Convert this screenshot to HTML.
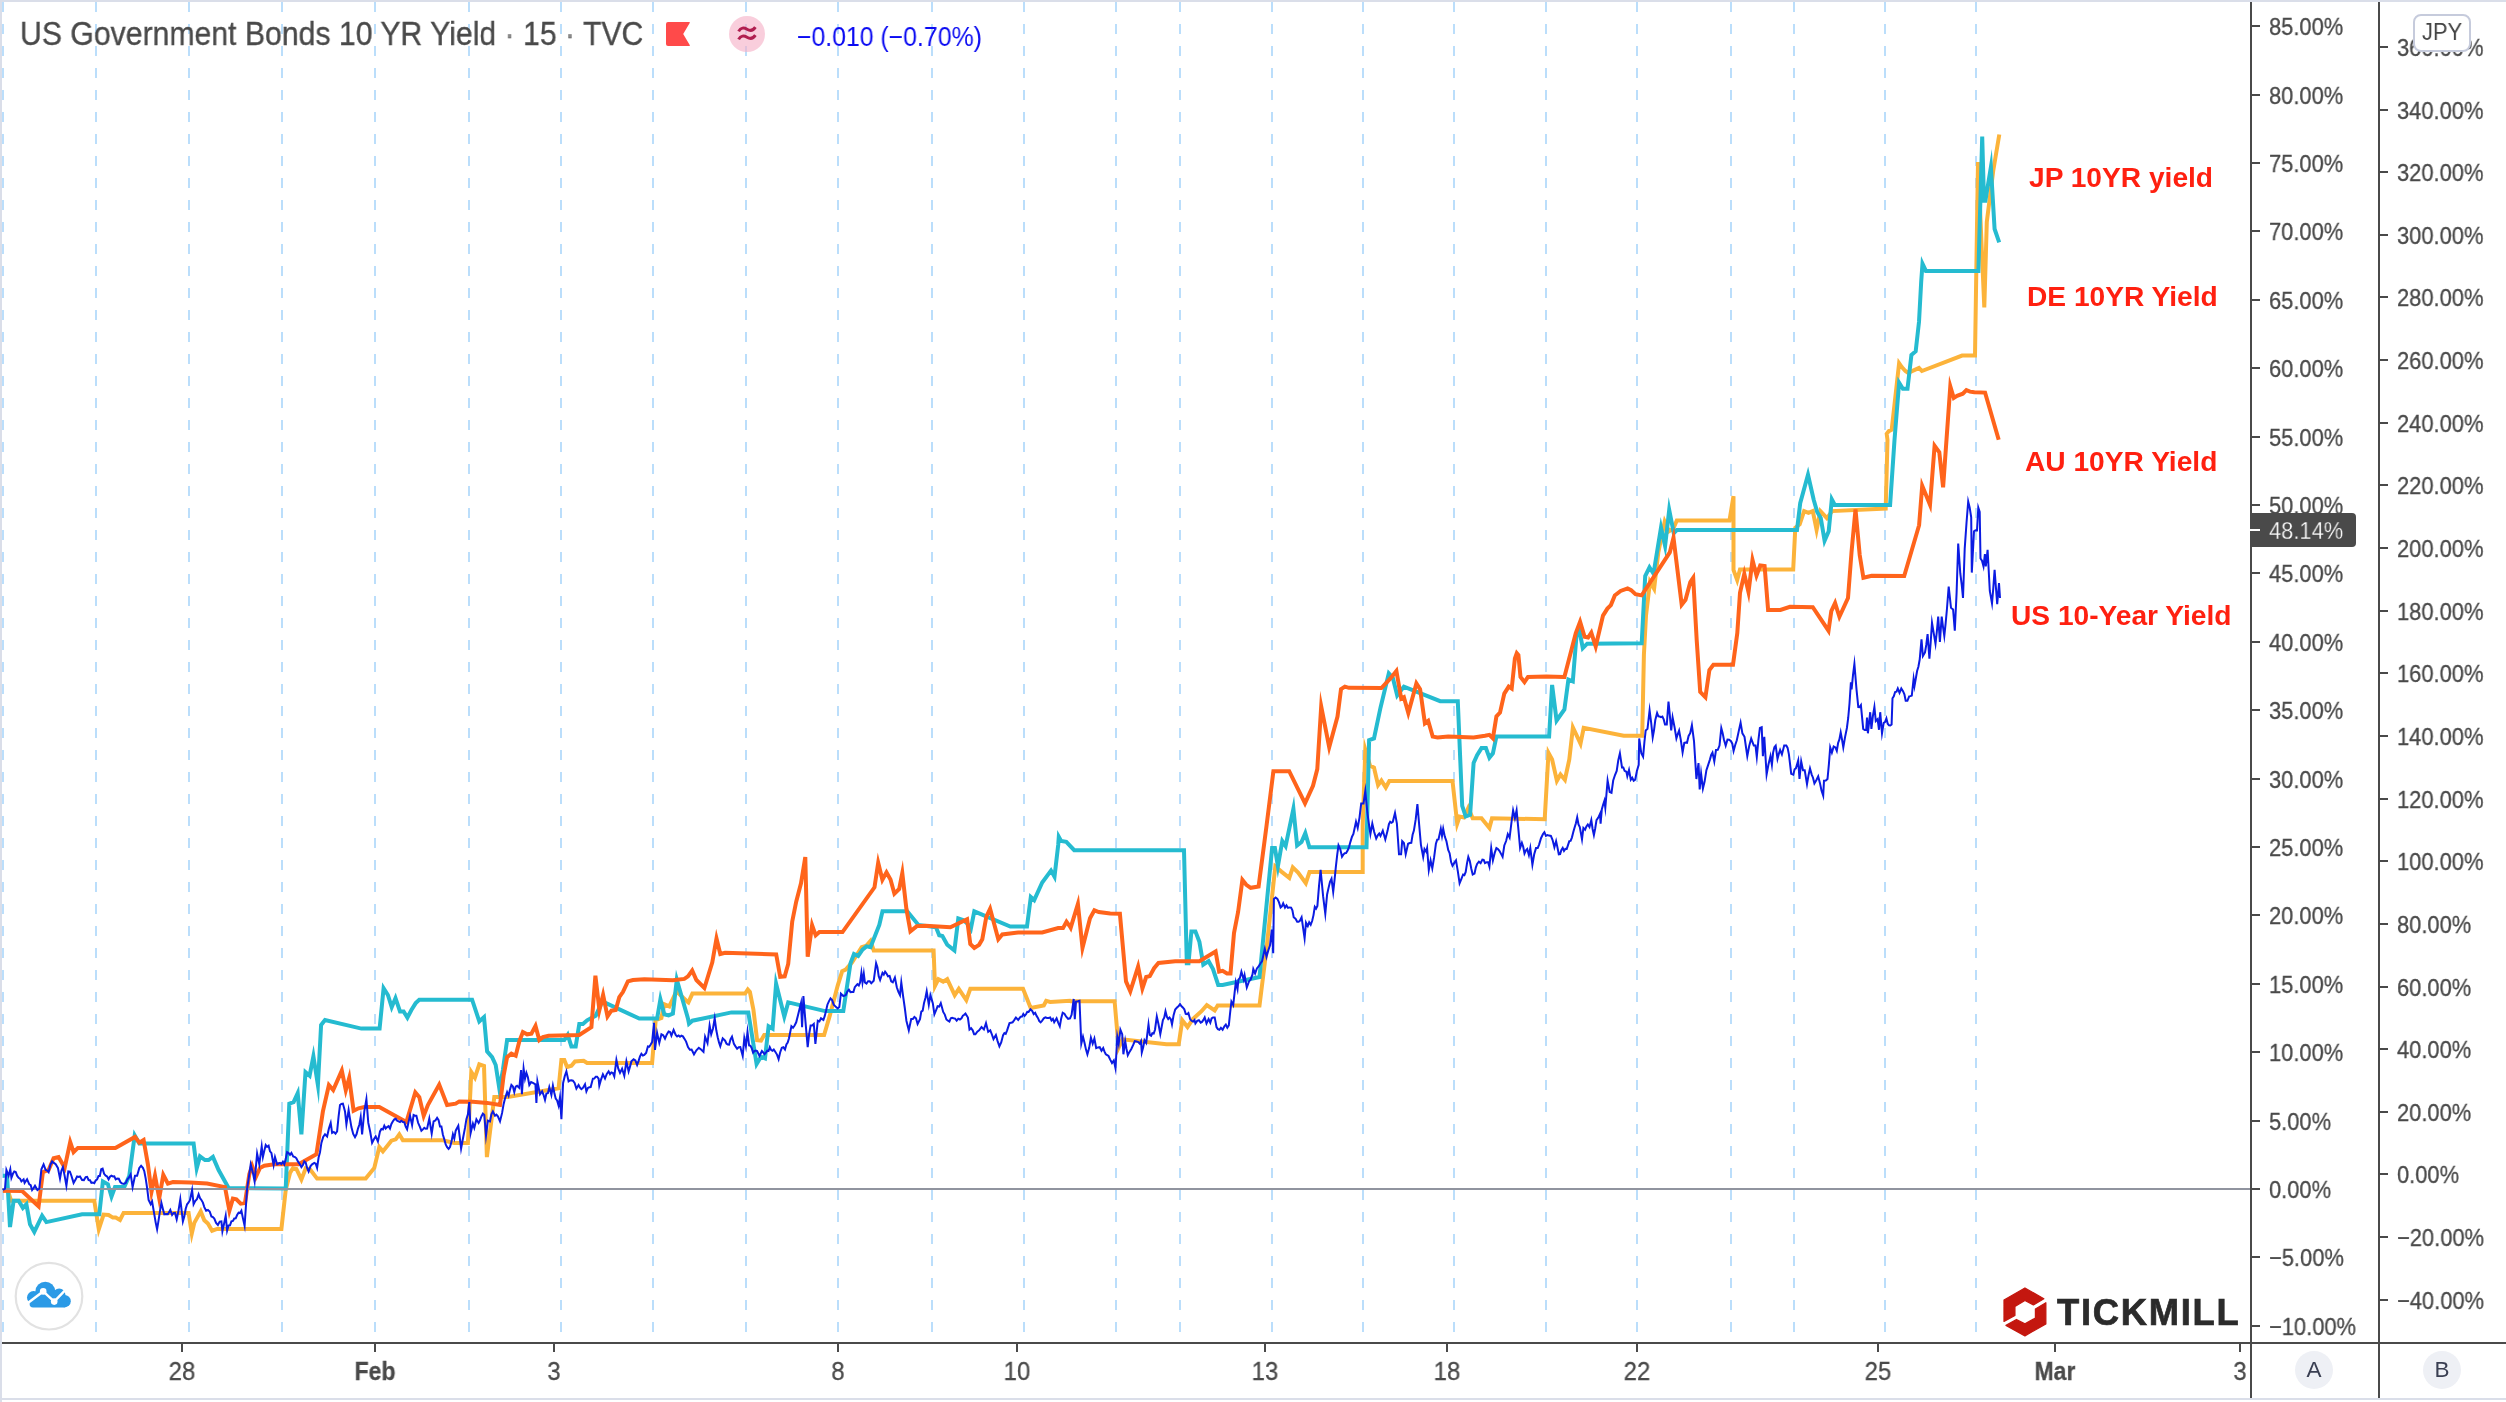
<!DOCTYPE html><html><head><meta charset="utf-8"><title>US Government Bonds 10 YR Yield</title><style>
*{margin:0;padding:0;box-sizing:border-box}
html,body{width:2506px;height:1402px;overflow:hidden;background:#fff}
body{font-family:"Liberation Sans",sans-serif;color:#4a4a4a;position:relative}
#chart{position:absolute;left:0;top:0;width:2506px;height:1402px;background:#fff;overflow:hidden}
.t{will-change:transform}
#bt{position:absolute;left:0;top:0;width:2506px;height:2px;background:#dadee9}
#bl{position:absolute;left:0;top:0;width:2px;height:1402px;background:#dadee9}
#bb{position:absolute;left:0;top:1398px;width:2506px;height:2px;background:#dadee9}
svg{position:absolute;left:0;top:0}
.t{position:absolute;white-space:nowrap;transform-origin:0 50%;line-height:1}
.yl{font-size:24px;height:24px;color:#4a4a4a;-webkit-text-stroke:0.3px #4a4a4a}
.xl{font-size:25px;height:25px;color:#4a4a4a;-webkit-text-stroke:0.3px #4a4a4a;transform-origin:50% 50%;text-align:center}
.red{font-weight:bold;color:#ff2010;font-size:27px;height:27px}
</style></head><body><div id="chart">
<svg width="2506" height="1402" viewBox="0 0 2506 1402"><line x1="3" y1="2" x2="3" y2="1342" stroke="#bbdefb" stroke-width="2" stroke-dasharray="10 12"/>
<line x1="96" y1="2" x2="96" y2="1342" stroke="#bbdefb" stroke-width="2" stroke-dasharray="10 12"/>
<line x1="189" y1="2" x2="189" y2="1342" stroke="#bbdefb" stroke-width="2" stroke-dasharray="10 12"/>
<line x1="282" y1="2" x2="282" y2="1342" stroke="#bbdefb" stroke-width="2" stroke-dasharray="10 12"/>
<line x1="375" y1="2" x2="375" y2="1342" stroke="#bbdefb" stroke-width="2" stroke-dasharray="10 12"/>
<line x1="469" y1="2" x2="469" y2="1342" stroke="#bbdefb" stroke-width="2" stroke-dasharray="10 12"/>
<line x1="561" y1="2" x2="561" y2="1342" stroke="#bbdefb" stroke-width="2" stroke-dasharray="10 12"/>
<line x1="653" y1="2" x2="653" y2="1342" stroke="#bbdefb" stroke-width="2" stroke-dasharray="10 12"/>
<line x1="746" y1="2" x2="746" y2="1342" stroke="#bbdefb" stroke-width="2" stroke-dasharray="10 12"/>
<line x1="838" y1="2" x2="838" y2="1342" stroke="#bbdefb" stroke-width="2" stroke-dasharray="10 12"/>
<line x1="932" y1="2" x2="932" y2="1342" stroke="#bbdefb" stroke-width="2" stroke-dasharray="10 12"/>
<line x1="1024" y1="2" x2="1024" y2="1342" stroke="#bbdefb" stroke-width="2" stroke-dasharray="10 12"/>
<line x1="1116" y1="2" x2="1116" y2="1342" stroke="#bbdefb" stroke-width="2" stroke-dasharray="10 12"/>
<line x1="1180" y1="2" x2="1180" y2="1342" stroke="#bbdefb" stroke-width="2" stroke-dasharray="10 12"/>
<line x1="1272" y1="2" x2="1272" y2="1342" stroke="#bbdefb" stroke-width="2" stroke-dasharray="10 12"/>
<line x1="1363" y1="2" x2="1363" y2="1342" stroke="#bbdefb" stroke-width="2" stroke-dasharray="10 12"/>
<line x1="1454" y1="2" x2="1454" y2="1342" stroke="#bbdefb" stroke-width="2" stroke-dasharray="10 12"/>
<line x1="1546" y1="2" x2="1546" y2="1342" stroke="#bbdefb" stroke-width="2" stroke-dasharray="10 12"/>
<line x1="1637" y1="2" x2="1637" y2="1342" stroke="#bbdefb" stroke-width="2" stroke-dasharray="10 12"/>
<line x1="1731" y1="2" x2="1731" y2="1342" stroke="#bbdefb" stroke-width="2" stroke-dasharray="10 12"/>
<line x1="1794" y1="2" x2="1794" y2="1342" stroke="#bbdefb" stroke-width="2" stroke-dasharray="10 12"/>
<line x1="1885" y1="2" x2="1885" y2="1342" stroke="#bbdefb" stroke-width="2" stroke-dasharray="10 12"/>
<line x1="1976" y1="2" x2="1976" y2="1342" stroke="#bbdefb" stroke-width="2" stroke-dasharray="10 12"/>
<path d="M2.9 1190.7 L7.9 1190.7 L11.1 1200.7 L94.3 1200.7 L98.8 1229.3 L103.6 1214.6 L108.6 1215.0 L112.9 1217.6 L115.7 1217.6 L120.0 1220.0 L123.6 1212.9 L188.6 1212.9 L191.8 1233.6 L194.3 1222.9 L200.7 1211.4 L204.3 1220.3 L207.9 1223.6 L212.1 1230.7 L217.1 1228.9 L281.4 1228.9 L285.7 1190.0 L290.0 1172.9 L292.9 1168.3 L296.4 1169.0 L301.4 1179.4 L305.7 1168.3 L310.0 1169.3 L317.1 1178.6 L358.0 1178.6 L365.7 1178.6 L374.3 1167.9 L379.3 1147.1 L382.9 1151.4 L391.4 1140.7 L395.7 1139.3 L399.3 1134.3 L402.9 1140.3 L442.9 1140.3 L454.3 1142.9 L467.9 1142.9 L471.3 1072.1 L474.9 1077.7 L479.3 1064.3 L484.0 1066.0 L486.9 1157.1 L494.3 1097.1 L507.1 1097.1 L558.6 1088.3 L561.4 1060.0 L564.3 1060.0 L567.1 1067.1 L571.4 1065.7 L575.0 1061.4 L583.6 1060.7 L587.1 1062.9 L652.1 1062.9 L655.7 1020.0 L661.4 1017.9 L664.3 1004.3 L669.3 1006.4 L676.4 991.4 L688.0 1002.1 L688.4 1002.4 L692.4 993.6 L745.1 993.6 L747.8 989.6 L749.9 992.0 L753.4 1009.5 L757.1 1040.2 L761.0 1040.7 L764.2 1035.1 L824.1 1035.1 L829.7 1015.9 L837.7 985.6 L842.2 971.2 L845.7 969.6 L852.1 962.4 L861.7 947.2 L866.5 945.6 L870.5 940.9 L873.7 950.4 L933.6 950.4 L935.0 986.0 L938.4 979.2 L943.2 981.6 L947.2 979.2 L954.7 995.2 L958.8 988.8 L966.3 1000.0 L970.3 988.8 L1023.0 988.8 L1030.7 1007.9 L1043.8 1005.5 L1046.2 1000.8 L1050.2 1001.9 L1070.0 1000.8 L1070.7 1001.2 L1114.6 1001.2 L1118.6 1047.6 L1122.5 1039.3 L1166.4 1044.3 L1178.7 1044.3 L1182.3 1020.3 L1187.5 1027.0 L1192.8 1019.1 L1201.5 1011.2 L1206.8 1005.1 L1214.7 1010.4 L1217.7 1005.5 L1259.5 1005.5 L1266.5 948.9 L1275.3 866.4 L1281.4 871.6 L1289.3 877.8 L1292.8 867.3 L1298.1 872.5 L1305.8 883.1 L1309.5 872.0 L1362.7 872.0 L1362.7 826.0 L1365.3 749.7 L1370.0 765.6 L1374.0 767.7 L1378.1 785.1 L1381.4 780.6 L1385.8 787.5 L1389.3 781.1 L1452.5 781.1 L1457.2 823.6 L1459.6 816.5 L1464.0 817.4 L1468.3 808.0 L1472.7 818.3 L1481.5 818.3 L1489.4 828.0 L1492.0 818.3 L1544.7 819.2 L1548.5 752.9 L1552.1 759.5 L1556.9 780.8 L1560.5 774.4 L1564.9 779.7 L1569.3 759.5 L1572.9 727.5 L1580.5 743.6 L1583.7 727.9 L1623.7 735.8 L1642.2 735.8 L1643.9 654.9 L1646.0 615.6 L1650.0 581.8 L1654.1 588.8 L1658.3 552.4 L1664.7 521.7 L1668.9 531.3 L1673.3 528.7 L1676.8 520.4 L1729.5 520.4 L1733.5 496.2 L1733.5 569.9 L1737.2 580.1 L1740.0 569.6 L1793.2 569.6 L1795.3 527.8 L1799.7 524.3 L1804.1 511.1 L1808.5 512.9 L1812.8 511.1 L1816.6 529.9 L1820.4 511.1 L1826.9 518.1 L1832.2 511.1 L1885.7 508.5 L1887.5 440.0 L1886.7 433.9 L1888.8 431.1 L1891.7 429.6 L1899.1 363.2 L1901.8 367.1 L1905.4 371.0 L1908.2 372.9 L1919.0 367.9 L1921.9 371.0 L1962.1 355.6 L1975.0 355.6 L1978.0 162.0 L1984.3 307.5 L1986.8 222.0 L1993.2 171.0 L1999.3 134.5" fill="none" stroke="#fcb33a" stroke-width="4" stroke-linejoin="miter" stroke-miterlimit="10"/>
<path d="M2.9 1175.7 L7.1 1175.7 L10.0 1227.1 L13.6 1200.7 L18.6 1200.7 L22.9 1207.9 L26.4 1204.3 L30.0 1224.3 L34.3 1231.9 L42.1 1215.7 L46.4 1222.1 L82.1 1214.3 L99.3 1214.3 L102.9 1181.4 L107.9 1184.3 L111.5 1196.6 L115.0 1187.1 L124.3 1187.1 L129.3 1175.7 L134.7 1135.4 L139.3 1143.6 L193.6 1143.6 L196.7 1168.3 L200.0 1156.4 L205.0 1160.0 L208.6 1160.0 L212.9 1156.9 L218.6 1170.0 L228.6 1187.9 L285.7 1188.6 L289.3 1103.6 L293.6 1102.1 L297.7 1093.2 L301.4 1134.3 L305.5 1072.1 L309.6 1075.7 L313.4 1056.3 L317.9 1085.0 L321.1 1025.0 L325.0 1020.0 L361.4 1028.6 L379.6 1028.6 L383.6 988.2 L387.9 995.0 L391.7 1007.2 L395.5 998.1 L400.0 1011.4 L403.6 1011.4 L407.4 1017.6 L411.4 1010.0 L415.7 1003.1 L419.3 999.7 L472.1 999.7 L479.3 1021.4 L484.0 1017.1 L487.1 1051.4 L492.1 1057.1 L495.7 1065.0 L499.4 1089.0 L502.9 1070.0 L507.1 1040.0 L564.3 1040.0 L567.7 1034.8 L571.4 1046.4 L575.7 1046.4 L579.3 1024.0 L582.9 1024.0 L587.1 1020.3 L595.7 1015.7 L601.4 1003.6 L605.0 1002.6 L639.3 1018.6 L657.1 1018.6 L660.4 999.2 L664.3 1014.3 L668.6 1015.4 L672.9 1013.6 L676.8 979.6 L688.0 1018.6 L689.0 1023.7 L692.4 1020.7 L731.5 1012.4 L748.3 1012.4 L756.6 1064.0 L761.0 1056.7 L765.0 1058.3 L768.6 1026.3 L772.6 1028.7 L776.1 983.7 L784.3 1016.6 L788.2 1002.4 L825.0 1011.1 L843.3 1011.1 L850.5 963.2 L854.0 954.0 L858.2 956.0 L862.5 949.6 L866.5 946.4 L870.5 947.2 L879.3 924.9 L882.5 911.3 L907.2 911.3 L918.4 924.9 L936.0 927.3 L939.2 935.3 L942.4 936.0 L947.2 944.8 L954.4 950.4 L958.3 918.5 L963.1 920.1 L967.1 923.3 L970.8 929.0 L974.3 911.3 L1010.3 926.5 L1027.0 926.5 L1030.8 897.0 L1034.2 900.1 L1042.2 882.5 L1051.0 870.6 L1054.5 876.7 L1058.2 845.0 L1058.8 836.8 L1061.1 840.9 L1066.3 841.8 L1074.2 850.2 L1184.0 850.2 L1186.8 963.3 L1188.5 963.3 L1191.4 931.4 L1195.4 931.4 L1199.4 941.9 L1203.3 964.7 L1208.6 961.2 L1213.0 969.1 L1218.2 984.9 L1222.6 984.9 L1259.5 977.0 L1272.1 848.0 L1274.9 848.0 L1277.9 866.2 L1282.3 841.0 L1285.6 846.1 L1293.4 808.9 L1297.1 845.5 L1301.5 842.0 L1305.3 833.1 L1309.4 847.3 L1366.5 847.3 L1369.1 740.2 L1374.0 738.4 L1380.5 707.7 L1388.8 673.4 L1392.8 677.8 L1397.2 695.4 L1403.9 686.6 L1440.2 701.2 L1457.8 701.2 L1462.2 806.0 L1465.7 816.5 L1470.1 814.8 L1473.6 763.0 L1477.1 755.1 L1481.5 748.1 L1485.9 748.1 L1489.4 757.7 L1492.9 753.3 L1496.4 736.6 L1549.1 736.6 L1552.1 684.9 L1556.6 720.5 L1564.4 709.4 L1568.4 679.6 L1572.8 681.3 L1576.7 633.1 L1579.3 630.0 L1582.8 648.1 L1587.2 643.7 L1641.7 643.3 L1645.2 576.1 L1649.5 567.3 L1653.5 573.7 L1661.0 527.6 L1665.1 546.0 L1669.2 509.9 L1673.8 533.1 L1676.8 530.1 L1797.0 530.1 L1800.2 503.2 L1808.0 474.8 L1813.7 499.7 L1817.2 512.0 L1820.8 518.1 L1824.6 540.7 L1828.7 531.3 L1831.8 499.3 L1834.8 505.0 L1890.1 505.0 L1894.5 440.0 L1899.1 382.7 L1902.9 388.7 L1907.5 388.7 L1911.4 354.9 L1915.7 351.3 L1919.0 321.9 L1921.2 281.7 L1922.5 263.7 L1925.9 270.9 L1978.4 271.0 L1982.2 136.5 L1984.0 200.8 L1985.4 200.8 L1990.9 167.0 L1994.6 229.0 L1999.2 242.3" fill="none" stroke="#25bbd0" stroke-width="4" stroke-linejoin="miter" stroke-miterlimit="10"/>
<path d="M2.9 1190.7 L22.1 1191.1 L38.6 1206.4 L42.9 1172.1 L48.6 1170.0 L53.6 1158.3 L58.6 1157.1 L64.7 1167.7 L70.2 1142.0 L73.6 1152.1 L77.9 1147.9 L115.4 1147.9 L135.0 1136.9 L139.3 1142.6 L143.6 1140.0 L147.9 1164.3 L151.5 1191.8 L155.0 1175.6 L159.2 1198.3 L163.3 1174.8 L167.9 1183.6 L172.9 1182.1 L190.0 1182.6 L207.1 1183.6 L225.0 1187.1 L229.4 1210.6 L232.9 1198.6 L236.4 1199.3 L240.7 1203.6 L245.0 1202.9 L249.3 1174.3 L252.1 1165.9 L255.9 1176.8 L260.0 1167.9 L264.3 1165.7 L274.3 1164.3 L298.6 1164.3 L316.4 1154.3 L322.9 1111.4 L328.9 1085.0 L333.2 1090.0 L341.8 1070.6 L345.8 1090.2 L349.2 1078.0 L353.6 1110.7 L358.6 1108.3 L364.3 1107.1 L379.3 1107.1 L406.4 1122.1 L415.3 1092.4 L419.3 1097.1 L423.7 1115.8 L427.9 1105.0 L439.2 1084.6 L447.1 1105.0 L455.7 1103.6 L459.3 1101.4 L472.9 1101.7 L487.1 1102.9 L500.0 1105.0 L503.6 1075.7 L507.1 1057.1 L511.4 1053.6 L515.7 1055.7 L519.3 1041.4 L522.9 1032.1 L527.1 1034.3 L531.4 1033.6 L535.5 1025.9 L539.3 1040.0 L542.9 1037.1 L548.6 1035.7 L579.3 1035.0 L591.4 1027.1 L595.4 975.7 L599.4 1010.0 L603.1 994.9 L607.5 1016.4 L611.4 1010.7 L615.7 1010.0 L619.3 997.1 L622.9 992.1 L627.9 981.4 L632.9 980.0 L644.3 979.3 L672.9 980.3 L684.3 978.9 L688.0 976.4 L692.2 970.5 L696.4 980.0 L704.4 988.0 L712.3 962.4 L716.5 938.5 L720.3 954.0 L725.1 952.8 L776.2 954.4 L780.2 976.8 L784.7 976.3 L788.2 964.0 L792.2 921.7 L796.2 901.7 L801.0 883.3 L805.3 857.0 L807.7 956.8 L812.1 925.2 L815.7 935.3 L819.4 932.1 L842.5 932.1 L874.5 887.3 L878.2 862.7 L882.4 879.8 L886.5 872.4 L890.5 879.4 L894.4 893.7 L899.2 888.9 L902.3 873.1 L906.4 908.9 L910.4 931.3 L916.8 926.1 L925.6 925.7 L950.4 927.3 L967.1 919.3 L970.3 944.0 L974.3 948.0 L979.1 944.8 L982.3 939.2 L986.3 916.9 L990.1 908.8 L998.3 939.2 L1002.3 934.5 L1018.2 932.5 L1042.2 932.5 L1058.2 928.1 L1063.0 928.1 L1066.5 921.7 L1070.0 926.5 L1070.7 927.7 L1077.9 904.0 L1082.5 947.8 L1090.0 918.2 L1094.4 910.3 L1098.8 912.0 L1110.2 913.5 L1119.9 913.8 L1126.0 981.4 L1130.3 991.3 L1138.1 966.6 L1142.4 988.4 L1146.2 977.0 L1149.8 976.1 L1154.1 968.2 L1158.5 963.0 L1175.2 961.2 L1199.4 961.2 L1215.6 951.5 L1219.1 971.7 L1222.6 970.9 L1227.0 973.5 L1230.5 973.5 L1234.0 933.1 L1238.1 912.0 L1242.4 879.9 L1246.3 884.8 L1250.7 887.8 L1258.6 886.6 L1266.5 826.0 L1273.4 771.2 L1289.2 771.2 L1305.0 803.4 L1313.0 785.8 L1317.3 769.1 L1321.2 706.4 L1329.2 747.2 L1337.5 716.5 L1341.0 689.2 L1344.9 686.6 L1348.9 687.8 L1381.4 688.0 L1390.2 678.7 L1396.4 671.0 L1401.2 698.7 L1403.9 697.2 L1408.3 713.0 L1416.4 683.4 L1420.1 689.2 L1424.9 723.3 L1428.2 720.8 L1432.7 736.6 L1437.6 737.5 L1448.2 736.6 L1473.6 737.5 L1485.0 735.8 L1489.4 734.9 L1492.9 738.4 L1496.4 716.5 L1500.0 712.6 L1504.3 693.6 L1508.7 686.6 L1511.7 688.6 L1514.9 658.5 L1516.8 653.2 L1518.4 655.0 L1520.5 677.0 L1524.5 682.2 L1528.0 677.0 L1546.5 676.6 L1564.0 677.0 L1564.4 677.0 L1575.8 633.1 L1580.1 621.7 L1584.6 636.7 L1588.1 637.5 L1591.3 632.6 L1595.7 646.5 L1603.0 615.6 L1607.4 608.6 L1610.9 605.1 L1614.8 595.4 L1620.6 591.0 L1627.6 588.4 L1631.1 590.1 L1635.5 594.2 L1641.7 595.4 L1669.8 552.4 L1673.5 537.7 L1681.7 604.7 L1685.5 599.8 L1690.3 582.2 L1693.2 577.9 L1696.7 640.2 L1700.2 692.0 L1705.4 697.3 L1709.4 670.0 L1713.4 664.8 L1733.0 664.8 L1737.3 633.1 L1740.0 592.8 L1744.3 574.0 L1748.5 592.1 L1752.5 559.9 L1756.5 575.6 L1760.2 565.5 L1764.6 566.1 L1768.1 610.0 L1780.4 610.0 L1790.0 606.8 L1812.8 607.2 L1828.5 630.7 L1831.3 611.2 L1835.1 603.1 L1839.4 616.8 L1848.0 598.0 L1851.5 552.4 L1855.5 509.4 L1859.7 555.0 L1863.4 577.8 L1871.7 575.7 L1904.2 576.1 L1919.1 525.2 L1922.2 485.8 L1930.0 504.8 L1934.6 445.8 L1939.3 452.3 L1943.1 487.4 L1950.3 386.3 L1953.8 398.0 L1957.1 395.9 L1962.8 393.7 L1966.4 390.1 L1970.0 391.6 L1974.3 392.3 L1985.1 392.6 L1998.7 439.7" fill="none" stroke="#ff641b" stroke-width="4" stroke-linejoin="miter" stroke-miterlimit="10"/>
<rect x="2" y="1188" width="2248" height="2" fill="#90949f"/>
<path d="M2.9 1190.0 L5.0 1188.6 L6.4 1170.0 L8.6 1175.7 L10.3 1169.3 L11.4 1177.9 L12.9 1173.8 L14.3 1171.4 L15.7 1172.0 L17.1 1175.7 L18.6 1177.8 L20.0 1178.6 L21.4 1181.4 L23.6 1179.3 L24.6 1182.9 L27.1 1179.3 L29.3 1184.3 L30.7 1185.2 L32.1 1190.0 L33.6 1188.0 L35.0 1185.7 L37.4 1190.0 L39.3 1188.6 L41.4 1169.3 L43.6 1164.3 L45.7 1170.0 L47.1 1170.5 L48.6 1172.1 L50.4 1164.8 L52.1 1161.4 L53.9 1162.9 L55.7 1164.3 L57.9 1167.9 L60.0 1178.6 L61.4 1170.7 L62.9 1167.1 L64.7 1176.1 L66.4 1185.7 L68.3 1171.4 L69.9 1171.6 L71.4 1175.7 L73.6 1182.9 L75.7 1179.3 L77.1 1176.5 L78.6 1177.0 L80.0 1176.4 L82.1 1180.0 L83.9 1180.1 L85.7 1177.1 L87.1 1176.8 L88.6 1180.0 L90.0 1180.2 L91.4 1182.9 L92.9 1182.5 L94.3 1183.1 L95.7 1180.5 L97.1 1179.3 L98.5 1176.1 L99.8 1176.1 L101.2 1169.2 L102.6 1168.6 L104.1 1173.8 L105.7 1175.7 L107.1 1176.5 L108.6 1179.3 L110.0 1176.7 L111.4 1175.6 L112.9 1176.4 L114.3 1176.3 L115.7 1179.3 L117.1 1178.6 L118.8 1178.8 L120.5 1182.3 L122.1 1183.6 L123.9 1183.8 L125.7 1182.9 L127.4 1179.4 L129.0 1177.4 L130.7 1174.3 L132.6 1187.1 L135.0 1175.7 L137.1 1175.7 L139.3 1167.9 L141.1 1165.8 L142.9 1167.9 L144.3 1171.2 L145.7 1178.6 L147.1 1187.9 L148.6 1200.0 L150.7 1204.3 L152.1 1201.4 L154.3 1214.3 L155.7 1222.6 L157.1 1229.3 L158.6 1220.2 L160.0 1210.8 L161.4 1202.9 L162.9 1209.0 L164.3 1214.3 L166.1 1214.1 L167.9 1214.3 L170.3 1210.0 L172.1 1215.0 L173.6 1213.0 L175.0 1212.9 L176.7 1219.3 L178.5 1210.6 L180.3 1199.3 L182.9 1221.4 L184.3 1216.6 L185.7 1208.8 L187.1 1204.3 L188.6 1202.5 L190.0 1200.0 L192.1 1190.0 L193.6 1204.3 L195.2 1201.1 L196.9 1199.3 L198.6 1194.3 L200.0 1198.2 L201.4 1200.0 L202.9 1202.6 L204.3 1207.1 L206.1 1210.8 L207.9 1210.0 L209.7 1211.5 L211.4 1216.4 L212.9 1217.1 L214.3 1218.6 L216.1 1223.0 L217.9 1225.0 L219.7 1221.6 L221.4 1221.4 L222.4 1231.4 L224.1 1223.5 L225.7 1215.7 L227.1 1230.7 L228.6 1225.5 L230.0 1225.3 L231.4 1221.4 L232.9 1221.0 L234.3 1218.5 L235.7 1218.3 L237.1 1215.0 L238.6 1212.7 L240.0 1213.0 L241.4 1210.7 L243.0 1218.6 L244.6 1225.7 L247.1 1188.6 L248.9 1176.8 L250.7 1164.3 L252.9 1172.9 L254.6 1181.4 L257.1 1153.6 L259.3 1164.3 L261.7 1146.4 L262.9 1157.1 L264.3 1150.9 L265.7 1145.0 L267.1 1146.9 L268.6 1145.7 L270.0 1151.3 L271.4 1152.9 L273.6 1165.0 L275.0 1157.1 L277.1 1164.3 L278.6 1163.5 L280.0 1162.9 L281.4 1164.1 L282.9 1161.8 L284.3 1164.3 L285.7 1159.1 L287.1 1152.1 L288.6 1153.1 L290.0 1154.9 L291.4 1152.9 L293.2 1156.5 L295.0 1157.1 L296.4 1158.3 L297.9 1161.4 L299.6 1163.8 L301.4 1167.1 L302.9 1165.1 L304.3 1161.4 L305.7 1162.6 L307.1 1167.9 L308.6 1171.4 L310.4 1166.3 L312.1 1164.3 L314.3 1162.9 L315.7 1163.6 L317.1 1167.9 L318.6 1157.5 L320.0 1152.4 L321.4 1142.9 L323.2 1136.9 L325.0 1134.3 L327.1 1136.4 L328.9 1128.5 L330.7 1122.9 L332.1 1132.9 L333.8 1131.9 L335.5 1133.6 L337.1 1131.4 L338.6 1116.3 L340.0 1105.0 L341.4 1104.0 L342.9 1103.6 L345.0 1111.4 L346.4 1124.3 L348.6 1110.0 L350.0 1118.8 L351.4 1127.1 L353.2 1133.9 L355.0 1137.1 L356.5 1134.3 L358.0 1128.6 L359.4 1124.5 L360.7 1117.1 L362.1 1134.3 L364.3 1111.4 L366.4 1099.3 L368.3 1122.9 L370.2 1131.8 L372.1 1142.9 L373.9 1139.3 L375.7 1136.4 L377.9 1141.4 L380.0 1131.4 L381.4 1128.9 L382.9 1129.4 L384.3 1125.7 L385.7 1128.5 L387.1 1127.1 L388.6 1126.2 L390.0 1128.6 L391.4 1124.0 L392.9 1121.2 L394.3 1119.3 L395.7 1118.8 L397.1 1120.7 L398.6 1121.4 L400.0 1122.1 L401.4 1120.8 L402.9 1122.1 L404.3 1122.2 L405.7 1126.5 L407.1 1129.3 L408.6 1121.9 L410.0 1115.7 L412.1 1125.0 L413.6 1115.0 L415.0 1115.7 L416.4 1115.7 L418.1 1122.8 L419.8 1126.6 L421.4 1130.7 L422.9 1129.4 L424.3 1127.9 L425.7 1128.8 L427.1 1128.6 L429.3 1118.6 L431.7 1133.6 L433.6 1121.4 L435.4 1120.5 L437.1 1117.9 L438.6 1120.1 L440.0 1126.4 L441.4 1126.4 L442.9 1134.7 L444.3 1139.3 L445.7 1144.5 L447.1 1147.1 L448.6 1148.9 L450.0 1147.1 L451.4 1142.1 L452.9 1134.3 L454.3 1138.6 L455.7 1130.7 L458.3 1125.7 L459.7 1136.6 L461.1 1148.6 L463.1 1137.8 L465.0 1127.9 L466.4 1119.2 L467.9 1114.3 L469.3 1102.1 L470.7 1132.9 L472.9 1123.6 L474.3 1127.9 L476.4 1119.3 L478.6 1122.9 L480.0 1120.3 L481.4 1116.4 L482.9 1113.7 L484.3 1115.0 L486.0 1135.7 L487.9 1120.7 L490.0 1121.4 L491.4 1114.4 L492.9 1111.4 L495.0 1115.7 L496.4 1114.7 L497.9 1116.4 L500.0 1121.4 L502.1 1112.9 L503.6 1104.2 L505.0 1098.6 L507.1 1092.1 L508.6 1095.7 L510.0 1089.6 L511.4 1085.0 L512.9 1086.5 L514.3 1092.1 L515.7 1086.6 L517.1 1085.7 L519.3 1087.9 L521.1 1070.0 L521.9 1094.3 L523.6 1068.6 L525.0 1078.6 L526.4 1072.9 L527.9 1077.3 L529.3 1085.0 L531.1 1082.1 L532.9 1082.9 L535.4 1084.3 L536.4 1102.9 L537.4 1081.4 L540.0 1094.3 L542.1 1091.4 L543.6 1095.1 L545.0 1100.0 L546.4 1093.5 L547.9 1093.2 L549.3 1087.1 L551.4 1095.0 L552.9 1085.7 L554.3 1092.7 L555.7 1098.6 L557.1 1100.5 L558.6 1105.7 L560.0 1097.1 L561.4 1119.3 L563.1 1082.9 L564.8 1076.0 L566.4 1071.4 L568.6 1081.4 L570.0 1080.5 L571.4 1080.3 L572.9 1080.7 L574.6 1082.9 L576.4 1088.6 L578.6 1085.0 L580.0 1087.6 L581.4 1089.2 L582.9 1087.9 L585.0 1084.3 L586.4 1091.4 L587.9 1087.9 L589.3 1087.3 L590.7 1087.1 L592.9 1078.6 L594.3 1078.5 L595.7 1076.7 L597.1 1076.7 L598.6 1078.6 L599.3 1085.7 L601.1 1079.3 L602.9 1074.3 L605.0 1078.6 L606.8 1073.9 L608.6 1071.4 L610.0 1074.2 L611.4 1072.4 L612.9 1073.0 L614.3 1076.4 L616.4 1060.0 L618.2 1068.5 L620.0 1072.9 L622.1 1068.6 L624.3 1075.7 L626.4 1061.4 L628.6 1071.4 L630.0 1066.6 L631.4 1061.4 L633.6 1059.3 L635.4 1060.5 L637.1 1065.0 L638.6 1060.9 L640.0 1056.4 L641.4 1053.8 L642.9 1055.6 L644.3 1055.0 L646.1 1052.9 L647.9 1046.4 L649.3 1046.7 L650.7 1044.5 L652.1 1042.1 L654.0 1022.9 L655.0 1050.0 L657.1 1032.9 L659.3 1042.9 L661.4 1034.3 L663.2 1035.3 L665.0 1038.6 L666.8 1034.4 L668.6 1031.4 L670.0 1032.0 L671.4 1035.7 L673.6 1030.0 L675.7 1035.0 L677.1 1036.4 L678.6 1035.5 L680.0 1036.8 L681.4 1035.7 L682.9 1036.4 L684.3 1038.6 L686.1 1041.6 L688.0 1047.1 L689.8 1049.7 L691.6 1049.5 L694.0 1054.3 L696.4 1050.3 L698.8 1047.9 L701.1 1049.5 L703.5 1051.9 L705.1 1036.7 L707.5 1043.1 L709.6 1025.5 L711.2 1034.3 L713.0 1028.5 L714.7 1018.3 L716.3 1030.3 L717.7 1037.2 L719.0 1042.4 L720.3 1046.3 L722.7 1038.3 L725.1 1040.7 L726.4 1043.5 L727.8 1044.5 L729.1 1044.7 L730.5 1039.4 L732.0 1036.7 L733.9 1043.9 L735.5 1046.4 L737.1 1048.7 L738.7 1047.2 L740.3 1047.1 L742.7 1055.9 L744.3 1038.3 L745.9 1046.3 L747.5 1031.9 L749.1 1045.5 L750.4 1045.7 L751.7 1048.1 L753.1 1052.7 L754.4 1051.1 L755.7 1050.5 L757.1 1051.1 L759.5 1055.9 L761.9 1051.1 L763.2 1052.5 L764.5 1054.2 L765.9 1052.7 L767.2 1050.6 L768.5 1051.0 L769.8 1047.1 L771.2 1050.1 L772.5 1050.8 L773.8 1049.5 L775.4 1052.0 L777.0 1054.6 L778.6 1059.1 L780.2 1052.2 L781.8 1047.9 L783.4 1047.3 L785.0 1049.5 L786.4 1044.4 L787.7 1042.6 L789.0 1038.3 L791.4 1026.3 L793.0 1027.8 L794.6 1025.5 L796.2 1022.3 L797.8 1015.9 L799.4 1009.5 L801.0 1003.1 L802.1 1027.1 L803.4 996.0 L804.8 1013.7 L806.3 1031.4 L807.7 1047.1 L809.1 1034.4 L810.6 1025.5 L812.2 1025.5 L813.8 1023.9 L815.4 1043.9 L817.8 1020.7 L819.4 1021.4 L821.0 1018.3 L823.4 1019.9 L824.7 1016.2 L826.0 1011.0 L827.4 1004.7 L828.9 1001.4 L830.5 998.4 L832.1 1000.1 L833.7 1004.7 L836.1 1007.1 L837.7 1008.5 L839.3 1007.1 L840.9 993.6 L843.3 996.0 L845.7 995.2 L847.3 991.6 L848.9 989.6 L850.5 992.1 L852.1 992.0 L853.4 992.0 L854.8 987.2 L856.1 985.6 L857.4 984.1 L858.8 985.5 L860.1 982.4 L861.4 972.8 L862.5 982.4 L863.8 973.6 L864.9 982.4 L866.5 983.6 L868.1 981.3 L869.7 981.3 L871.3 983.2 L873.7 980.8 L876.1 963.2 L877.4 967.2 L878.7 976.2 L880.1 980.0 L882.5 972.8 L883.8 974.5 L885.1 971.7 L886.5 973.6 L888.0 976.3 L889.6 976.0 L891.2 981.4 L892.8 982.4 L894.9 977.6 L896.8 987.2 L898.4 991.9 L900.0 995.2 L901.3 982.4 L903.2 996.8 L904.8 1008.0 L906.4 1020.7 L908.8 1030.3 L911.2 1019.1 L912.8 1019.1 L914.4 1016.9 L916.0 1018.3 L917.6 1023.9 L920.0 1019.1 L921.3 1011.6 L922.7 1010.6 L924.0 1003.1 L925.4 997.9 L926.7 991.2 L928.8 1004.7 L930.4 995.2 L932.8 1003.1 L934.4 1014.3 L936.0 1010.5 L937.6 1006.3 L939.2 1006.7 L940.8 1003.1 L943.2 1011.9 L944.8 1014.6 L946.4 1019.5 L948.0 1020.7 L949.4 1021.6 L950.8 1018.2 L952.1 1017.8 L953.5 1018.3 L955.1 1018.6 L956.7 1020.7 L958.3 1018.7 L959.9 1019.5 L961.5 1018.3 L962.9 1015.6 L964.2 1014.8 L965.5 1013.5 L967.9 1017.5 L969.5 1029.5 L971.1 1028.2 L972.7 1030.3 L974.1 1034.2 L975.4 1034.3 L977.3 1031.6 L979.1 1030.3 L981.5 1027.1 L983.9 1029.5 L986.0 1023.1 L988.2 1031.9 L990.3 1030.3 L991.9 1034.5 L993.5 1039.1 L995.9 1035.1 L997.6 1041.1 L999.4 1046.3 L1001.2 1042.5 L1003.1 1035.1 L1004.4 1033.1 L1005.7 1033.8 L1007.1 1030.3 L1009.5 1023.1 L1011.1 1022.7 L1012.6 1022.3 L1014.2 1020.1 L1015.9 1017.5 L1018.2 1019.9 L1020.6 1016.7 L1022.0 1016.6 L1023.3 1014.0 L1024.6 1015.9 L1026.0 1014.3 L1027.3 1011.8 L1028.6 1011.9 L1030.5 1009.2 L1032.3 1011.1 L1033.7 1014.1 L1035.2 1012.8 L1036.6 1015.9 L1037.9 1017.9 L1039.3 1021.2 L1040.6 1022.3 L1042.2 1020.6 L1043.8 1018.3 L1045.4 1017.3 L1047.0 1018.0 L1048.6 1018.0 L1050.2 1017.5 L1051.5 1020.4 L1052.9 1018.9 L1054.2 1022.3 L1056.6 1018.3 L1058.2 1022.6 L1059.8 1026.3 L1061.2 1018.4 L1062.7 1012.7 L1064.4 1013.7 L1066.2 1016.7 L1068.1 1018.8 L1070.0 1018.3 L1071.6 1014.8 L1073.7 999.0 L1074.8 1019.1 L1076.0 1001.6 L1077.8 1001.2 L1079.5 1000.7 L1081.3 1043.7 L1083.0 1036.7 L1084.5 1042.8 L1086.0 1049.6 L1087.4 1054.3 L1089.2 1047.8 L1090.9 1037.6 L1092.7 1043.7 L1094.4 1038.5 L1096.2 1048.1 L1098.0 1047.4 L1099.7 1047.2 L1101.5 1050.8 L1103.2 1048.1 L1104.5 1051.7 L1105.8 1054.3 L1107.2 1055.2 L1108.5 1056.0 L1110.2 1059.6 L1112.0 1063.0 L1113.8 1060.4 L1115.5 1068.3 L1117.3 1036.7 L1118.7 1043.7 L1120.4 1029.7 L1122.2 1034.1 L1123.4 1054.3 L1125.2 1041.1 L1126.5 1049.0 L1127.8 1055.2 L1129.5 1051.9 L1131.3 1049.0 L1133.1 1045.2 L1134.8 1041.1 L1136.6 1041.4 L1138.3 1042.0 L1139.7 1043.6 L1141.0 1041.1 L1141.8 1052.5 L1143.2 1047.3 L1144.5 1040.2 L1146.2 1042.9 L1148.5 1024.4 L1149.8 1035.0 L1151.1 1035.8 L1152.4 1033.2 L1153.7 1033.5 L1155.0 1029.7 L1156.8 1016.5 L1158.5 1024.2 L1160.3 1034.1 L1161.6 1027.3 L1162.9 1020.0 L1164.2 1017.7 L1165.5 1011.2 L1166.9 1016.8 L1168.2 1019.1 L1169.5 1017.5 L1170.8 1019.1 L1172.0 1024.4 L1173.6 1015.2 L1175.2 1009.5 L1177.0 1007.5 L1178.7 1006.0 L1180.0 1004.0 L1181.3 1006.0 L1182.8 1007.4 L1184.3 1009.3 L1185.7 1013.9 L1187.1 1014.2 L1188.4 1013.0 L1190.1 1019.1 L1191.6 1020.8 L1193.1 1021.6 L1194.5 1020.0 L1195.4 1023.5 L1197.2 1020.9 L1198.9 1020.2 L1200.7 1022.7 L1202.0 1021.9 L1203.4 1019.9 L1204.7 1017.4 L1206.5 1023.5 L1208.6 1019.1 L1210.3 1022.7 L1211.6 1018.4 L1213.0 1017.4 L1214.7 1017.4 L1216.5 1027.0 L1217.9 1029.1 L1219.4 1029.8 L1220.9 1027.9 L1222.6 1029.7 L1224.4 1026.2 L1225.8 1024.6 L1227.3 1027.7 L1228.8 1025.3 L1230.1 1013.0 L1231.4 1001.6 L1233.2 1005.1 L1234.5 993.6 L1235.8 982.3 L1237.5 989.3 L1238.4 979.6 L1239.9 977.9 L1241.4 971.7 L1243.7 979.6 L1244.6 975.2 L1246.8 987.5 L1249.0 981.4 L1250.7 979.4 L1252.5 974.4 L1253.3 969.1 L1255.1 973.5 L1256.9 968.4 L1258.6 966.5 L1260.4 963.5 L1262.1 961.2 L1263.4 955.1 L1264.8 948.9 L1266.5 956.8 L1268.3 950.4 L1270.0 945.4 L1271.8 929.6 L1273.2 953.3 L1273.9 898.9 L1275.6 897.5 L1277.4 898.9 L1279.0 902.4 L1280.6 907.6 L1281.9 906.5 L1283.2 903.3 L1285.0 907.6 L1286.5 905.4 L1288.0 907.9 L1289.6 907.4 L1291.1 907.6 L1292.4 910.3 L1293.7 917.3 L1295.5 918.7 L1297.2 921.7 L1298.6 921.8 L1299.9 920.8 L1301.6 917.3 L1303.1 927.9 L1304.6 938.4 L1306.0 922.6 L1307.8 926.1 L1309.2 922.3 L1310.7 924.8 L1312.2 920.8 L1313.5 915.1 L1314.8 906.8 L1316.1 908.5 L1317.4 905.9 L1319.0 886.1 L1320.6 869.9 L1323.1 896.2 L1325.3 913.8 L1327.1 894.5 L1328.5 888.1 L1330.0 881.8 L1331.5 878.7 L1333.2 891.9 L1334.5 880.4 L1335.9 866.4 L1337.2 854.8 L1338.5 845.3 L1340.3 849.3 L1342.0 856.7 L1343.3 854.6 L1344.7 853.2 L1346.1 853.1 L1347.6 850.6 L1349.0 847.1 L1350.5 841.6 L1352.0 836.7 L1353.4 833.9 L1356.0 821.8 L1357.7 828.0 L1359.5 817.6 L1361.2 803.4 L1363.5 803.4 L1365.3 791.1 L1367.4 813.0 L1368.9 823.9 L1370.4 834.1 L1372.3 823.6 L1374.2 832.0 L1376.2 838.5 L1377.9 835.0 L1379.2 833.5 L1380.5 835.9 L1382.8 830.6 L1385.3 839.4 L1387.6 830.6 L1388.9 824.2 L1390.2 821.8 L1391.5 822.7 L1392.8 821.8 L1395.0 813.0 L1396.9 823.6 L1399.0 854.3 L1401.1 854.3 L1402.2 841.1 L1403.9 842.9 L1405.7 854.3 L1408.1 843.8 L1409.7 843.0 L1411.3 842.9 L1412.6 834.8 L1413.9 830.6 L1415.7 819.4 L1417.4 804.2 L1419.2 825.1 L1420.9 844.6 L1423.2 856.9 L1424.5 849.0 L1426.2 851.7 L1427.1 848.1 L1428.8 870.1 L1430.6 860.4 L1432.3 868.4 L1434.1 857.4 L1435.9 843.8 L1437.2 839.6 L1438.5 839.4 L1440.8 828.8 L1442.0 835.9 L1443.2 828.8 L1444.8 836.6 L1446.4 841.1 L1448.2 849.9 L1449.6 853.2 L1451.1 862.1 L1452.5 865.7 L1454.3 862.9 L1456.0 860.4 L1457.8 871.1 L1459.6 883.3 L1461.3 879.1 L1463.1 874.5 L1464.4 875.1 L1465.7 871.9 L1467.0 863.3 L1468.3 856.9 L1469.8 861.1 L1471.3 868.8 L1472.7 874.5 L1474.5 873.6 L1475.8 867.6 L1477.1 864.0 L1478.9 861.7 L1480.6 863.1 L1482.4 859.6 L1483.7 859.8 L1485.0 863.1 L1486.8 862.2 L1488.1 862.3 L1489.4 866.6 L1491.2 848.1 L1492.9 860.4 L1494.7 852.9 L1496.4 848.1 L1497.9 849.0 L1499.4 850.8 L1500.8 853.4 L1502.6 856.9 L1504.3 845.5 L1506.1 841.0 L1507.8 834.1 L1509.6 837.6 L1511.4 823.0 L1513.1 810.4 L1514.9 818.3 L1516.6 810.4 L1518.4 829.3 L1520.1 848.1 L1521.9 842.9 L1523.2 846.7 L1524.5 853.4 L1525.8 850.5 L1527.2 849.0 L1528.9 855.2 L1530.3 848.1 L1532.4 864.8 L1534.2 854.3 L1536.0 848.1 L1537.7 848.1 L1539.1 844.6 L1541.0 838.2 L1543.0 834.1 L1544.4 832.2 L1545.9 835.8 L1547.4 835.0 L1549.1 835.6 L1550.9 835.9 L1552.6 840.1 L1554.4 847.3 L1556.1 841.1 L1557.5 847.6 L1558.8 854.3 L1560.1 854.1 L1561.4 849.9 L1562.7 847.9 L1564.0 850.9 L1565.4 848.9 L1566.7 849.0 L1568.0 845.1 L1569.3 841.1 L1570.6 840.9 L1571.9 837.6 L1573.3 832.1 L1574.6 827.5 L1575.9 823.3 L1577.2 817.4 L1578.5 824.5 L1579.8 827.1 L1582.0 839.4 L1583.4 828.0 L1585.1 829.7 L1586.4 826.4 L1587.8 824.5 L1589.5 827.1 L1591.3 820.1 L1592.6 829.0 L1593.9 835.0 L1595.2 828.5 L1596.5 820.1 L1598.3 817.6 L1600.0 813.9 L1600.6 823.6 L1601.8 809.5 L1603.1 804.7 L1604.4 800.7 L1605.3 807.8 L1607.6 780.5 L1609.7 792.0 L1611.5 792.8 L1613.2 780.5 L1615.0 775.0 L1616.7 770.9 L1618.3 760.1 L1619.9 753.3 L1622.0 767.4 L1623.3 767.4 L1624.6 770.9 L1626.4 771.8 L1627.3 776.2 L1629.0 770.0 L1630.8 779.7 L1632.2 777.7 L1633.7 780.8 L1635.2 779.7 L1636.9 771.1 L1638.7 764.8 L1639.2 738.4 L1641.3 753.3 L1643.1 756.8 L1644.4 742.1 L1645.7 730.5 L1647.5 728.8 L1649.6 710.3 L1651.1 722.0 L1652.7 737.5 L1654.0 730.3 L1655.3 720.0 L1657.1 713.0 L1658.4 716.4 L1659.7 716.5 L1661.0 717.2 L1662.4 716.5 L1663.7 719.4 L1665.0 724.4 L1666.8 724.4 L1668.5 701.5 L1669.8 714.8 L1671.2 730.5 L1672.6 717.3 L1674.5 726.9 L1676.4 738.4 L1677.7 734.3 L1679.1 730.5 L1680.8 739.9 L1682.6 752.5 L1684.3 742.8 L1685.6 742.5 L1687.0 742.8 L1688.6 735.9 L1690.2 733.2 L1691.9 725.2 L1694.0 741.0 L1696.4 779.0 L1698.5 763.1 L1699.7 789.5 L1701.1 773.7 L1702.9 788.6 L1704.6 781.6 L1706.4 770.2 L1708.1 765.1 L1709.9 759.6 L1711.2 755.0 L1712.5 752.6 L1714.3 761.4 L1716.0 750.0 L1717.8 749.9 L1719.5 745.6 L1721.3 728.0 L1722.6 732.9 L1723.9 739.5 L1725.7 745.6 L1727.5 739.5 L1729.2 739.7 L1731.0 741.2 L1732.3 743.7 L1733.6 750.9 L1735.2 745.0 L1736.8 740.3 L1738.7 731.4 L1740.6 722.8 L1742.4 733.3 L1744.5 736.8 L1745.9 746.5 L1747.3 756.1 L1749.2 746.0 L1751.2 738.6 L1752.5 742.1 L1753.8 745.6 L1755.5 745.6 L1756.8 757.0 L1758.4 740.2 L1759.9 728.0 L1761.7 727.2 L1762.9 756.1 L1764.3 736.8 L1766.6 774.6 L1768.5 764.3 L1770.5 756.1 L1771.9 764.9 L1773.1 752.6 L1774.4 747.2 L1775.7 745.6 L1777.5 758.8 L1778.8 753.9 L1780.1 750.0 L1781.9 754.4 L1784.2 745.6 L1786.3 745.6 L1787.6 747.9 L1788.9 754.4 L1791.2 773.7 L1793.3 774.6 L1794.6 769.3 L1795.9 768.4 L1798.2 760.5 L1799.5 779.0 L1801.2 761.4 L1803.0 770.2 L1804.7 770.2 L1807.0 784.2 L1808.5 775.4 L1810.0 768.4 L1811.7 774.6 L1813.0 777.7 L1814.4 783.4 L1816.3 780.2 L1818.2 776.3 L1819.9 782.9 L1821.5 790.4 L1823.2 795.6 L1824.0 780.7 L1825.8 780.6 L1827.5 779.0 L1828.9 764.1 L1830.2 747.4 L1831.9 752.6 L1833.7 746.5 L1835.4 747.4 L1836.8 750.9 L1838.1 743.0 L1839.4 739.4 L1840.7 732.4 L1842.0 739.4 L1843.3 747.4 L1845.1 736.9 L1846.9 728.0 L1848.2 718.0 L1849.5 703.5 L1850.9 682.4 L1851.6 689.4 L1853.0 675.1 L1854.4 663.9 L1856.5 689.4 L1858.3 707.0 L1859.6 707.1 L1860.9 705.2 L1863.2 728.9 L1864.7 730.0 L1866.2 729.8 L1867.0 717.5 L1867.9 733.3 L1870.2 712.2 L1871.4 728.9 L1872.9 715.8 L1874.4 707.0 L1875.8 721.0 L1877.6 719.2 L1879.0 729.8 L1880.2 712.2 L1882.0 733.3 L1883.7 722.8 L1885.0 722.1 L1886.4 718.4 L1887.7 723.7 L1889.0 725.4 L1890.3 725.5 L1891.6 724.5 L1892.5 698.2 L1893.8 696.2 L1895.1 692.0 L1896.5 691.7 L1897.8 688.5 L1899.5 692.9 L1901.3 688.5 L1903.0 691.2 L1904.4 694.3 L1905.7 700.8 L1907.4 700.8 L1909.2 696.4 L1910.5 696.1 L1911.8 695.5 L1913.6 678.9 L1914.5 685.9 L1915.8 678.5 L1917.1 671.0 L1918.4 666.8 L1919.7 659.5 L1921.5 639.4 L1922.9 656.0 L1925.0 652.5 L1926.3 644.7 L1927.6 634.1 L1929.4 658.7 L1930.7 642.2 L1932.0 622.7 L1933.8 633.6 L1935.5 643.8 L1936.8 632.0 L1938.2 616.5 L1939.9 642.0 L1941.7 616.5 L1943.0 627.0 L1944.3 635.9 L1945.6 623.6 L1946.9 609.5 L1948.7 586.7 L1951.0 607.8 L1953.1 609.5 L1954.8 630.6 L1956.6 592.8 L1958.2 543.6 L1960.3 573.5 L1961.7 584.5 L1963.0 598.0 L1964.7 548.9 L1966.5 523.0 L1968.2 501.5 L1969.7 507.7 L1971.2 517.3 L1971.8 572.6 L1974.0 531.3 L1975.5 530.2 L1977.0 530.4 L1978.3 507.6 L1979.7 512.0 L1980.5 558.5 L1982.0 560.7 L1983.5 566.4 L1984.9 554.1 L1985.8 566.4 L1987.6 549.8 L1989.8 591.0 L1992.0 603.3 L1993.3 588.2 L1994.6 569.9 L1995.9 587.3 L1997.2 604.2 L1999.0 583.1 L2000.0 598.0" fill="none" stroke="#0b1be2" stroke-width="2" stroke-linejoin="miter" stroke-miterlimit="10"/>
<rect x="2250" y="2" width="2" height="1397" fill="#4a4a4a"/>
<rect x="2378" y="2" width="2" height="1397" fill="#4a4a4a"/>
<rect x="2" y="1342" width="2504" height="2" fill="#4a4a4a"/>
<rect x="2252" y="1325" width="8" height="2" fill="#4a4a4a"/>
<rect x="2252" y="1256" width="8" height="2" fill="#4a4a4a"/>
<rect x="2252" y="1188" width="8" height="2" fill="#4a4a4a"/>
<rect x="2252" y="1120" width="8" height="2" fill="#4a4a4a"/>
<rect x="2252" y="1051" width="8" height="2" fill="#4a4a4a"/>
<rect x="2252" y="983" width="8" height="2" fill="#4a4a4a"/>
<rect x="2252" y="914" width="8" height="2" fill="#4a4a4a"/>
<rect x="2252" y="846" width="8" height="2" fill="#4a4a4a"/>
<rect x="2252" y="778" width="8" height="2" fill="#4a4a4a"/>
<rect x="2252" y="709" width="8" height="2" fill="#4a4a4a"/>
<rect x="2252" y="641" width="8" height="2" fill="#4a4a4a"/>
<rect x="2252" y="572" width="8" height="2" fill="#4a4a4a"/>
<rect x="2252" y="504" width="8" height="2" fill="#4a4a4a"/>
<rect x="2252" y="436" width="8" height="2" fill="#4a4a4a"/>
<rect x="2252" y="367" width="8" height="2" fill="#4a4a4a"/>
<rect x="2252" y="299" width="8" height="2" fill="#4a4a4a"/>
<rect x="2252" y="230" width="8" height="2" fill="#4a4a4a"/>
<rect x="2252" y="162" width="8" height="2" fill="#4a4a4a"/>
<rect x="2252" y="94" width="8" height="2" fill="#4a4a4a"/>
<rect x="2252" y="25" width="8" height="2" fill="#4a4a4a"/>
<rect x="2380" y="1299" width="8" height="2" fill="#4a4a4a"/>
<rect x="2380" y="1236" width="8" height="2" fill="#4a4a4a"/>
<rect x="2380" y="1173" width="8" height="2" fill="#4a4a4a"/>
<rect x="2380" y="1111" width="8" height="2" fill="#4a4a4a"/>
<rect x="2380" y="1048" width="8" height="2" fill="#4a4a4a"/>
<rect x="2380" y="986" width="8" height="2" fill="#4a4a4a"/>
<rect x="2380" y="923" width="8" height="2" fill="#4a4a4a"/>
<rect x="2380" y="860" width="8" height="2" fill="#4a4a4a"/>
<rect x="2380" y="798" width="8" height="2" fill="#4a4a4a"/>
<rect x="2380" y="735" width="8" height="2" fill="#4a4a4a"/>
<rect x="2380" y="672" width="8" height="2" fill="#4a4a4a"/>
<rect x="2380" y="610" width="8" height="2" fill="#4a4a4a"/>
<rect x="2380" y="547" width="8" height="2" fill="#4a4a4a"/>
<rect x="2380" y="484" width="8" height="2" fill="#4a4a4a"/>
<rect x="2380" y="422" width="8" height="2" fill="#4a4a4a"/>
<rect x="2380" y="359" width="8" height="2" fill="#4a4a4a"/>
<rect x="2380" y="296" width="8" height="2" fill="#4a4a4a"/>
<rect x="2380" y="234" width="8" height="2" fill="#4a4a4a"/>
<rect x="2380" y="171" width="8" height="2" fill="#4a4a4a"/>
<rect x="2380" y="109" width="8" height="2" fill="#4a4a4a"/>
<rect x="2380" y="46" width="8" height="2" fill="#4a4a4a"/>
<rect x="181" y="1344" width="2" height="8" fill="#4a4a4a"/>
<rect x="374" y="1344" width="2" height="8" fill="#4a4a4a"/>
<rect x="553" y="1344" width="2" height="8" fill="#4a4a4a"/>
<rect x="837" y="1344" width="2" height="8" fill="#4a4a4a"/>
<rect x="1016" y="1344" width="2" height="8" fill="#4a4a4a"/>
<rect x="1264" y="1344" width="2" height="8" fill="#4a4a4a"/>
<rect x="1446" y="1344" width="2" height="8" fill="#4a4a4a"/>
<rect x="1636" y="1344" width="2" height="8" fill="#4a4a4a"/>
<rect x="1877" y="1344" width="2" height="8" fill="#4a4a4a"/>
<rect x="2054" y="1344" width="2" height="8" fill="#4a4a4a"/>
<rect x="2239" y="1344" width="2" height="8" fill="#4a4a4a"/></svg>
<div class="t yl" style="left:2269.4px;top:1315px;transform:scaleX(0.912);">−10.00%</div>
<div class="t yl" style="left:2269.4px;top:1246px;transform:scaleX(0.912);">−5.00%</div>
<div class="t yl" style="left:2269.4px;top:1178px;transform:scaleX(0.912);">0.00%</div>
<div class="t yl" style="left:2269.4px;top:1110px;transform:scaleX(0.912);">5.00%</div>
<div class="t yl" style="left:2269.4px;top:1041px;transform:scaleX(0.912);">10.00%</div>
<div class="t yl" style="left:2269.4px;top:973px;transform:scaleX(0.912);">15.00%</div>
<div class="t yl" style="left:2269.4px;top:904px;transform:scaleX(0.912);">20.00%</div>
<div class="t yl" style="left:2269.4px;top:836px;transform:scaleX(0.912);">25.00%</div>
<div class="t yl" style="left:2269.4px;top:768px;transform:scaleX(0.912);">30.00%</div>
<div class="t yl" style="left:2269.4px;top:699px;transform:scaleX(0.912);">35.00%</div>
<div class="t yl" style="left:2269.4px;top:631px;transform:scaleX(0.912);">40.00%</div>
<div class="t yl" style="left:2269.4px;top:562px;transform:scaleX(0.912);">45.00%</div>
<div class="t yl" style="left:2269.4px;top:494px;transform:scaleX(0.912);">50.00%</div>
<div class="t yl" style="left:2269.4px;top:426px;transform:scaleX(0.912);">55.00%</div>
<div class="t yl" style="left:2269.4px;top:357px;transform:scaleX(0.912);">60.00%</div>
<div class="t yl" style="left:2269.4px;top:289px;transform:scaleX(0.912);">65.00%</div>
<div class="t yl" style="left:2269.4px;top:220px;transform:scaleX(0.912);">70.00%</div>
<div class="t yl" style="left:2269.4px;top:152px;transform:scaleX(0.912);">75.00%</div>
<div class="t yl" style="left:2269.4px;top:84px;transform:scaleX(0.912);">80.00%</div>
<div class="t yl" style="left:2269.4px;top:15px;transform:scaleX(0.912);">85.00%</div>
<div class="t yl" style="left:2397.4px;top:1289px;transform:scaleX(0.912);">−40.00%</div>
<div class="t yl" style="left:2397.4px;top:1226px;transform:scaleX(0.912);">−20.00%</div>
<div class="t yl" style="left:2397.4px;top:1163px;transform:scaleX(0.912);">0.00%</div>
<div class="t yl" style="left:2397.4px;top:1101px;transform:scaleX(0.912);">20.00%</div>
<div class="t yl" style="left:2397.4px;top:1038px;transform:scaleX(0.912);">40.00%</div>
<div class="t yl" style="left:2397.4px;top:976px;transform:scaleX(0.912);">60.00%</div>
<div class="t yl" style="left:2397.4px;top:913px;transform:scaleX(0.912);">80.00%</div>
<div class="t yl" style="left:2397.4px;top:850px;transform:scaleX(0.912);">100.00%</div>
<div class="t yl" style="left:2397.4px;top:788px;transform:scaleX(0.912);">120.00%</div>
<div class="t yl" style="left:2397.4px;top:725px;transform:scaleX(0.912);">140.00%</div>
<div class="t yl" style="left:2397.4px;top:662px;transform:scaleX(0.912);">160.00%</div>
<div class="t yl" style="left:2397.4px;top:600px;transform:scaleX(0.912);">180.00%</div>
<div class="t yl" style="left:2397.4px;top:537px;transform:scaleX(0.912);">200.00%</div>
<div class="t yl" style="left:2397.4px;top:474px;transform:scaleX(0.912);">220.00%</div>
<div class="t yl" style="left:2397.4px;top:412px;transform:scaleX(0.912);">240.00%</div>
<div class="t yl" style="left:2397.4px;top:349px;transform:scaleX(0.912);">260.00%</div>
<div class="t yl" style="left:2397.4px;top:286px;transform:scaleX(0.912);">280.00%</div>
<div class="t yl" style="left:2397.4px;top:224px;transform:scaleX(0.912);">300.00%</div>
<div class="t yl" style="left:2397.4px;top:161px;transform:scaleX(0.912);">320.00%</div>
<div class="t yl" style="left:2397.4px;top:99px;transform:scaleX(0.912);">340.00%</div>
<div class="t yl" style="left:2397.4px;top:36px;transform:scaleX(0.912);">360.00%</div>
<div class="t xl" style="left:122px;width:120px;top:1359.4px;transform:scaleX(0.954);">28</div>
<div class="t xl" style="left:315px;width:120px;top:1359.4px;transform:scaleX(0.92);font-weight:bold;">Feb</div>
<div class="t xl" style="left:494px;width:120px;top:1359.4px;transform:scaleX(0.954);">3</div>
<div class="t xl" style="left:778px;width:120px;top:1359.4px;transform:scaleX(0.954);">8</div>
<div class="t xl" style="left:957px;width:120px;top:1359.4px;transform:scaleX(0.954);">10</div>
<div class="t xl" style="left:1205px;width:120px;top:1359.4px;transform:scaleX(0.954);">13</div>
<div class="t xl" style="left:1387px;width:120px;top:1359.4px;transform:scaleX(0.954);">18</div>
<div class="t xl" style="left:1577px;width:120px;top:1359.4px;transform:scaleX(0.954);">22</div>
<div class="t xl" style="left:1818px;width:120px;top:1359.4px;transform:scaleX(0.954);">25</div>
<div class="t xl" style="left:1995px;width:120px;top:1359.4px;transform:scaleX(0.92);font-weight:bold;">Mar</div>
<div class="t xl" style="left:2180px;width:120px;top:1359.4px;transform:scaleX(0.954);">3</div>
<div id="bt"></div><div id="bl"></div><div id="bb"></div>
<div class="t" id="title" style="left:19.6px;top:16.8px;font-size:33.5px;height:34px;color:#4a4a4a;-webkit-text-stroke:0.35px #4a4a4a;transform:scaleX(0.9015)">US Government Bonds 10 YR Yield <span style="color:#8a8a8a">&middot;</span> 15 <span style="color:#8a8a8a">&middot;</span> TVC</div>
<svg style="left:666px;top:22px" width="24" height="24" viewBox="0 0 24 24"><path d="M2 0 H23.2 Q24.4 0 23.7 1 L17.2 12 L23.7 23 Q24.4 24 23.2 24 H2 Q0 24 0 22 V2 Q0 0 2 0 Z" fill="#ff4a4a"/></svg>
<div style="position:absolute;left:729px;top:16px;width:36px;height:36px;border-radius:50%;background:rgba(245,176,198,0.62)"></div>
<svg style="left:729px;top:16px" width="36" height="36" viewBox="0 0 36 36"><g fill="none" stroke="#b01f50" stroke-width="3" stroke-linecap="butt"><path d="M9.6 15.4 C11.8 11.4 15 11.4 18 13.2 C21 15 24 14.8 26.4 11.2"/><path d="M9.6 23.4 C11.8 19.4 15 19.4 18 21.2 C21 23 24 22.8 26.4 19.2"/></g></svg>
<div class="t" id="chg" style="left:796.5px;top:24.3px;font-size:27px;height:27px;color:#0a0af2;transform:scaleX(0.919)">−0.010 (−0.70%)</div>
<div class="t red" id="red0" style="left:2029.1px;top:165.1px;transform:scaleX(1.042)">JP 10YR yield</div>
<div class="t red" id="red1" style="left:2026.9px;top:284.1px;transform:scaleX(1.042)">DE 10YR Yield</div>
<div class="t red" id="red2" style="left:2024.7px;top:448.8px;transform:scaleX(1.042)">AU 10YR Yield</div>
<div class="t red" id="red3" style="left:2011.1px;top:602.5px;transform:scaleX(1.042)">US 10-Year Yield</div>
<div style="position:absolute;left:2250px;top:513px;width:106px;height:34px;background:#4a4a4a;border-radius:0 4px 4px 0"></div>
<div style="position:absolute;left:2250px;top:529px;width:10px;height:2px;background:#fff"></div>
<div class="t yl" id="badge" style="left:2269.4px;top:519px;color:#fff;transform:scaleX(0.912)">48.14%</div>
<div style="position:absolute;left:2413px;top:14px;width:58px;height:37.5px;border:2px solid #c6cbdc;border-radius:8px;background:#fff"></div>
<div class="t" id="jpy" style="left:2421.5px;top:19.5px;font-size:24px;height:24px;color:#444;transform:scaleX(0.912)">JPY</div>
<div style="position:absolute;left:2295px;top:1351px;width:38px;height:38px;border-radius:50%;background:#eef0f5;color:#3a3f52;font-size:22.5px;line-height:38.5px;text-align:center;will-change:transform">A</div>
<div style="position:absolute;left:2423px;top:1351px;width:38px;height:38px;border-radius:50%;background:#eef0f5;color:#3a3f52;font-size:22.5px;line-height:38.5px;text-align:center;will-change:transform">B</div>
<svg style="left:13px;top:1260px" width="72" height="72" viewBox="13 1260 72 72"><circle cx="49" cy="1296.2" r="33.3" fill="#fff" stroke="#e2e2e2" stroke-width="2.2"/><g fill="#2b9ae6"><circle cx="33.6" cy="1297.6" r="6.6"/><circle cx="45.3" cy="1291.6" r="9.9"/><circle cx="59.2" cy="1294.6" r="6.2"/><circle cx="64.6" cy="1301.2" r="6.2"/><rect x="29.6" y="1295" width="37" height="12.4" rx="3.4"/></g><path d="M26.2 1304.2 L43.2 1291.4 L54.2 1301.6 L66 1289.4" fill="none" stroke="#fff" stroke-width="2.5"/><circle cx="43.2" cy="1291.4" r="3.3" fill="#fff"/><circle cx="54.2" cy="1301.6" r="3.3" fill="#fff"/></svg>
<div style="position:absolute;left:1996px;top:1282px;width:250px;height:58px;background:#fff"></div>
<svg style="left:0;top:0" width="2506" height="1402" viewBox="0 0 2506 1402"><g fill="#c4170f" stroke="#c4170f" stroke-width="1.2" stroke-linejoin="round"><polygon points="2003.98,1321.40 2003.98,1299.95 2024.93,1287.98 2043.88,1298.75 2033.41,1304.94 2024.93,1300.45 2014.95,1306.44 2014.95,1315.42"/><polygon points="2045.88,1302.75 2045.88,1323.89 2024.93,1335.87 2005.97,1325.39 2016.45,1319.41 2024.93,1323.89 2035.40,1317.91 2035.40,1308.93"/></g></svg>
<div class="t" id="tick" style="left:2057px;top:1294.6px;font-size:36.4px;height:36px;font-weight:bold;color:#2b2b2b;letter-spacing:1.7px;-webkit-text-stroke:0.7px #2b2b2b;transform:scaleX(1)">TICKMILL</div>
</div></body></html>
